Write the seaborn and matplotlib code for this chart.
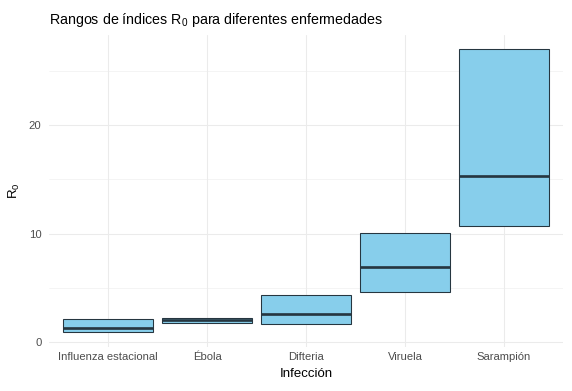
import matplotlib
matplotlib.use("Agg")
import matplotlib.pyplot as plt
from matplotlib.ticker import MultipleLocator
import seaborn as sns
import pandas as pd
import numpy as np

# Rangos de R0 (min, mediana, max) por enfermedad
enfermedades = ["Influenza estacional", "Ébola", "Difteria", "Viruela", "Sarampión"]
r0_min = [0.9, 1.8, 1.7, 4.6, 10.7]
r0_mediana = [1.3, 2.05, 2.6, 6.9, 15.3]
r0_max = [2.1, 2.2, 4.3, 10.1, 27.0]

df = pd.DataFrame({"enfermedad": enfermedades, "min": r0_min,
                   "mediana": r0_mediana, "max": r0_max})
df["rango"] = df["max"] - df["min"]

sns.set_theme(style="whitegrid")
plt.rcParams["font.family"] = ["Liberation Sans", "DejaVu Sans"]
plt.rcParams["mathtext.fontset"] = "custom"
plt.rcParams["mathtext.rm"] = "Liberation Sans"
plt.rcParams["mathtext.it"] = "Liberation Sans"
plt.rcParams["mathtext.bf"] = "Liberation Sans"

fig, ax = plt.subplots(figsize=(572 / 72, 391 / 72), dpi=72)
fig.subplots_adjust(left=0.085, right=0.985, top=0.9105, bottom=0.1138)

edge = "#263640"
sns.barplot(data=df, x="enfermedad", y="rango", bottom=df["min"].to_numpy(),
            color="#87CEEB", saturation=1, width=0.9,
            edgecolor=edge, linewidth=1.07, ax=ax, zorder=3)

pos = np.arange(len(enfermedades))
ax.hlines(df["mediana"], pos - 0.45, pos + 0.45, color=edge, linewidth=2.67, zorder=4)

# escalas tipo ggplot (expansion 5% / 0.6)
lo, hi = min(r0_min), max(r0_max)
pad = 0.05 * (hi - lo)
ax.set_ylim(lo - pad, hi + pad)
ax.set_xlim(-0.6, len(enfermedades) - 0.4)
ax.yaxis.set_major_locator(MultipleLocator(10))
ax.yaxis.set_minor_locator(MultipleLocator(5))

ax.set_axisbelow(True)
ax.grid(which="major", color="#EBEBEB", linewidth=1.07)
ax.grid(which="minor", axis="y", color="#EBEBEB", linewidth=0.53)
for s in ax.spines.values():
    s.set_visible(False)
ax.tick_params(which="both", length=0, labelsize=11.2, labelcolor="#4D4D4D")
ax.tick_params(axis="y", pad=7)
ax.tick_params(axis="x", pad=5)

ax.set_xlabel("Infección", fontsize=13.2, color="black", labelpad=6)
ax.set_ylabel(r"R$_0$", fontsize=13.2, color="black", labelpad=7)
fig.text(48.6 / 572, 1 - 24 / 391, r"Rangos de índices R$_0$ para diferentes enfermedades",
         fontsize=14.2, color="black", ha="left", va="baseline")

fig.savefig("out.png", dpi=72, facecolor="white")
